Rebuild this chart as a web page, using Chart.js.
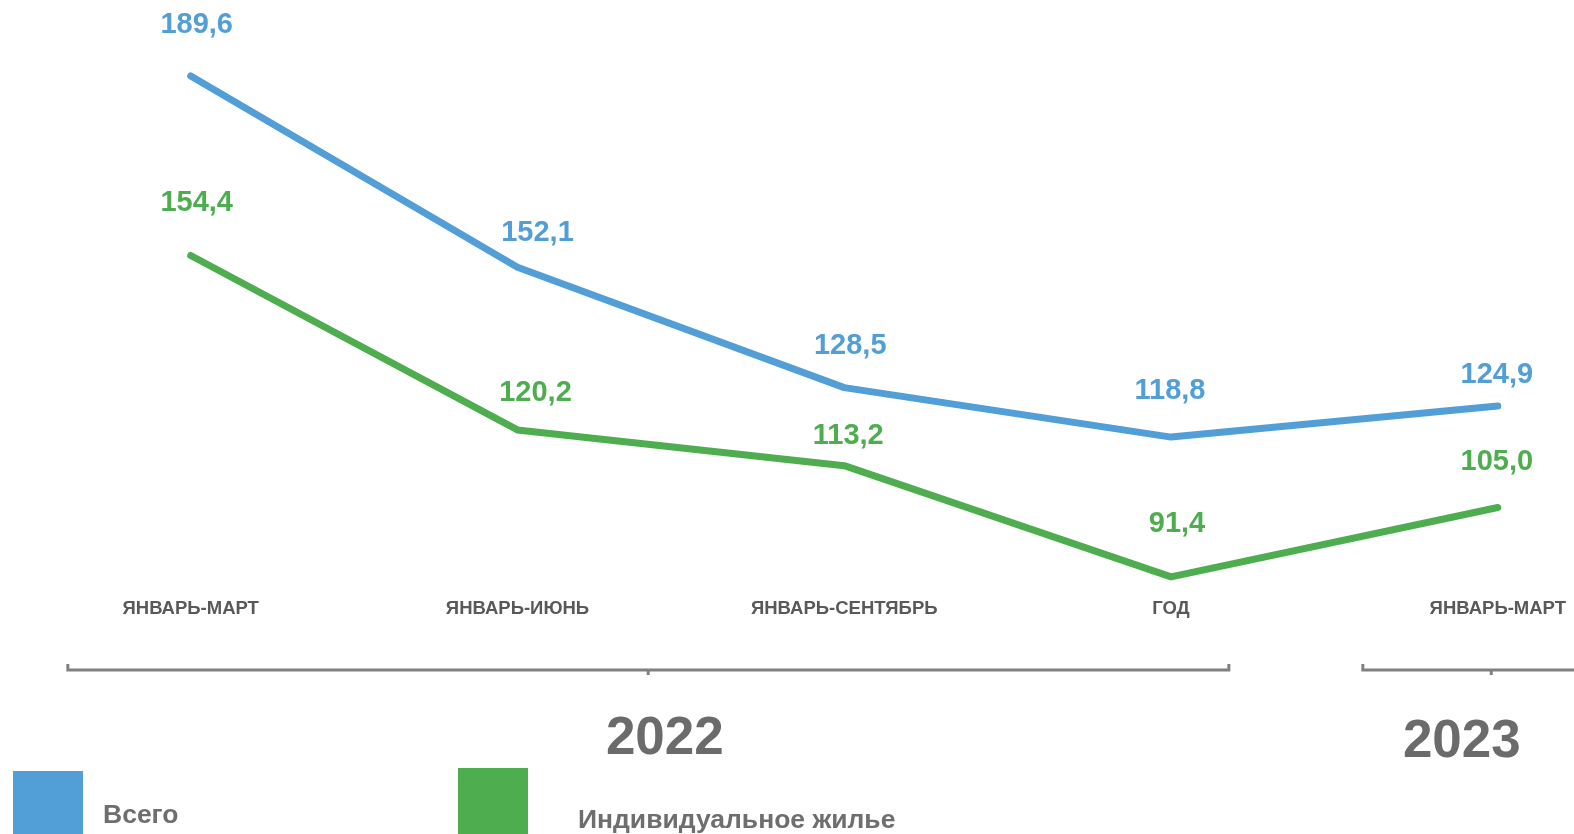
<!DOCTYPE html>
<html>
<head>
<meta charset="utf-8">
<script src="https://cdn.jsdelivr.net/npm/chart.js@4.4.1/dist/chart.umd.min.js"></script>
<style>
  html, body { margin: 0; padding: 0; background: #ffffff; }
  #wrap { width: 1574px; height: 834px; position: relative; }
</style>
</head>
<body>
<div id="wrap"><canvas id="c"></canvas></div>
<script>
// ---- data ----
const categories = ['ЯНВАРЬ-МАРТ', 'ЯНВАРЬ-ИЮНЬ', 'ЯНВАРЬ-СЕНТЯБРЬ', 'ГОД', 'ЯНВАРЬ-МАРТ'];
const seriesTotal = [189.6, 152.1, 128.5, 118.8, 124.9];
const seriesIndividual = [154.4, 120.2, 113.2, 91.4, 105.0];
const seriesNames = ['Всего', 'Индивидуальное жилье'];
const years = ['2022', '2023'];

// ---- styles ----
const BLUE = '#529ed7';
const GREEN = '#4ead4e';
const labelNudgeTotal = [[6, -43], [20, -26], [6, -34], [-1, -38], [-1, -23]];
const labelNudgeIndividual = [[6, -45], [18, -29], [4, -22], [6, -45], [-1, -37]];
// bracket groups in category-index units: [left, middle, right, labelCenter]
const yearGroups = [[-0.376, 1.40, 3.177, 1.451], [3.587, 3.98, 4.376, 3.890]];
const FONT = '"Liberation Sans", Arial, sans-serif';

const fmt = v => v.toFixed(1).replace('.', ',');

const overlayPlugin = {
  id: 'overlay',
  afterDatasetsDraw(chart) {
    const ctx = chart.ctx;
    const xs = chart.scales.x;
    const nudges = [labelNudgeTotal, labelNudgeIndividual];
    // value labels
    ctx.save();
    ctx.font = 'bold 29px ' + FONT;
    ctx.textAlign = 'center';
    ctx.textBaseline = 'alphabetic';
    chart.data.datasets.forEach((ds, di) => {
      const meta = chart.getDatasetMeta(di);
      ctx.fillStyle = ds.borderColor;
      meta.data.forEach((pt, i) => {
        const n = nudges[di][i];
        ctx.fillText(fmt(ds.data[i]), pt.x + n[0], pt.y + n[1]);
      });
    });
    ctx.restore();

    // brackets and year labels
    ctx.save();
    ctx.strokeStyle = '#808080';
    ctx.lineWidth = 3;
    ctx.lineCap = 'butt';
    const by = 670;
    yearGroups.forEach((g, gi) => {
      const l = xs.getPixelForValue(g[0]);
      const m = xs.getPixelForValue(g[1]);
      const r = xs.getPixelForValue(g[2]);
      ctx.beginPath();
      ctx.moveTo(l, by - 6);
      ctx.lineTo(l, by);
      ctx.lineTo(r, by);
      ctx.lineTo(r, by - 6);
      ctx.stroke();
      ctx.beginPath();
      ctx.moveTo(m, by);
      ctx.lineTo(m, by + 5);
      ctx.stroke();
      ctx.fillStyle = '#6b6b6b';
      ctx.font = 'bold 53px ' + FONT;
      ctx.textAlign = 'center';
      ctx.textBaseline = 'alphabetic';
      ctx.fillText(years[gi], xs.getPixelForValue(g[3]), gi === 0 ? 754 : 757);
    });
    ctx.restore();

    // legend
    ctx.save();
    const items = [
      { x: 13, y: 771, tx: 103, ty: 823 },
      { x: 458, y: 768, tx: 578, ty: 828 }
    ];
    chart.data.datasets.forEach((ds, di) => {
      const it = items[di];
      ctx.fillStyle = ds.borderColor;
      ctx.fillRect(it.x, it.y, 70, 834 - it.y);
      ctx.fillStyle = '#6e6e6e';
      ctx.font = 'bold 26.5px ' + FONT;
      ctx.textAlign = 'left';
      ctx.textBaseline = 'alphabetic';
      ctx.fillText(ds.label, it.tx, it.ty);
    });
    ctx.restore();
  }
};

new Chart(document.getElementById('c'), {
  type: 'line',
  data: {
    labels: categories,
    datasets: [
      { label: seriesNames[0], data: seriesTotal, borderColor: BLUE, backgroundColor: BLUE },
      { label: seriesNames[1], data: seriesIndividual, borderColor: GREEN, backgroundColor: GREEN }
    ]
  },
  options: {
    responsive: true,
    maintainAspectRatio: false,
    animation: false,
    devicePixelRatio: 1,
    layout: { padding: { left: 190.7, right: 74, top: 20, bottom: 0 } },
    elements: {
      line: { borderWidth: 7, tension: 0, borderCapStyle: 'round', borderJoinStyle: 'round' },
      point: { radius: 0, hoverRadius: 0 }
    },
    datasets: { line: { clip: false } },
    plugins: { legend: { display: false }, tooltip: { enabled: false } },
    scales: {
      x: {
        offset: false,
        grid: { display: false, drawTicks: false },
        border: { display: false },
        ticks: {
          color: '#595959',
          font: { family: FONT, size: 18.5, weight: 'bold' },
          padding: 8,
          maxRotation: 0,
          autoSkip: false
        },
        afterFit(scale) { scale.height = 244; }
      },
      y: {
        display: false,
        min: 88.82,
        max: 200.58
      }
    }
  },
  plugins: [overlayPlugin]
});
</script>
</body>
</html>
